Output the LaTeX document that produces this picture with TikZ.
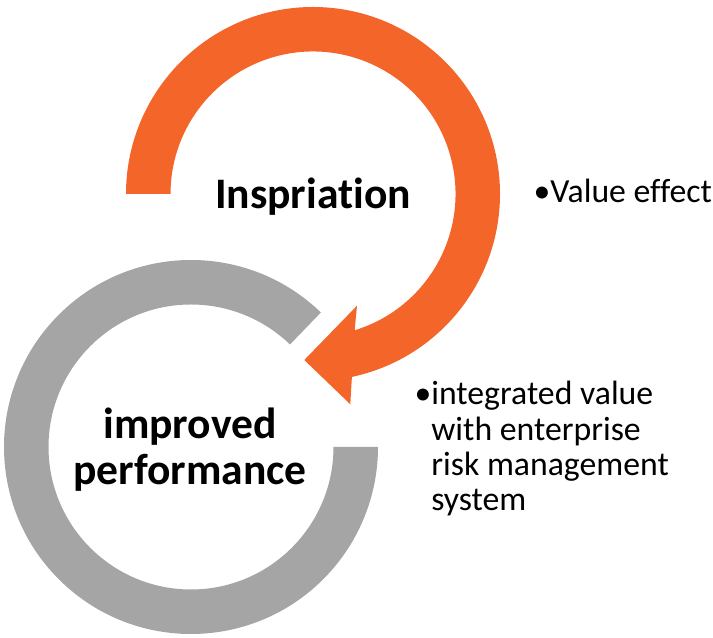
\documentclass[tikz,border=0pt]{standalone}
\usepackage{fontspec}
\setmainfont{Carlito}[Ligatures=NoCommon]
\usepackage{tikz}
\usetikzlibrary{calc}
\definecolor{inspireorange}{HTML}{F4652A}
\definecolor{performgray}{HTML}{A5A5A5}

\begin{document}
\begin{tikzpicture}[x=0.02cm,y=0.02cm,
	inspire/.style={fill=inspireorange},
	perform/.style={fill=performgray},
	bigtxt/.style={font=\fontsize{24.8}{26.6}\selectfont\bfseries, inner sep=0pt, align=center},
	smalltxt/.style={font=\fontsize{19.2}{20.2}\selectfont, inner sep=0pt, align=left, anchor=base west}]
	\useasboundingbox (0,0) rectangle (713,638);
	\coordinate (oc) at (313,444);
	\coordinate (gc) at (191,191);
	% orange arrow round the top circle
	\fill[inspire] ([shift={(180:187)}]oc) arc[start angle=180, end angle=-78, radius=187]
		-- (350.3,233.7) -- (304.3,278) -- (357,332.3)
		-- ([shift={(-73:142.5)}]oc) arc[start angle=-73, end angle=180, radius=142.5] -- cycle;
	% grey open ring
	\fill[perform] ([shift={(46:187)}]gc) arc[start angle=46, end angle=360, radius=187]
		-- ([shift={(0:142.5)}]gc) arc[start angle=360, end angle=46, radius=142.5] -- cycle;
	\node[bigtxt, anchor=base] (insp) at (313,429.7) {Inspriation};
	\node[bigtxt, anchor=base] (perf) at (190,153) {improved\\performance};
	\node[smalltxt] (value) at (550,435.3) {\llap{•}Value effect};
	\node[smalltxt] (intg) at (431,127) {\llap{•}integrated value\\with enterprise\\risk management\\system};
\end{tikzpicture}
\end{document}
